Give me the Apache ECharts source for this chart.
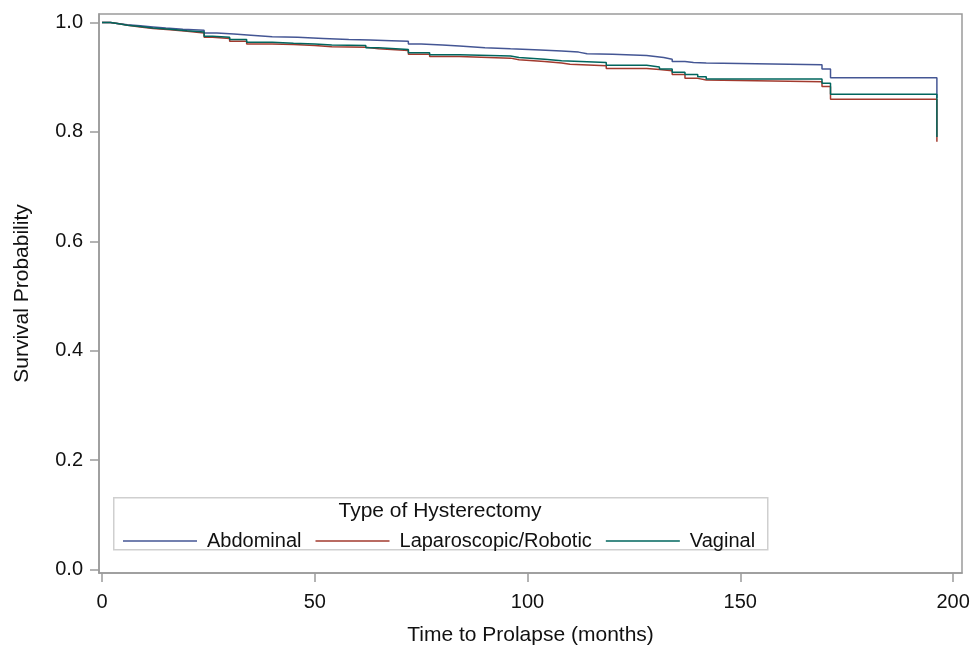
<!DOCTYPE html>
<html>
<head>
<meta charset="utf-8">
<script src="https://cdn.jsdelivr.net/npm/echarts@6/dist/echarts.min.js"></script>
<style>
html,body{margin:0;padding:0;background:#fff;}
#chart{width:972px;height:645px;}
</style>
</head>
<body>
<div id="chart"></div>
<script>
// ---- data ----
const groupNames = ['Abdominal', 'Laparoscopic/Robotic', 'Vaginal'];

const abdTime = [0, 2, 4, 6, 9, 12, 15, 19, 24, 27, 31, 35, 40, 46, 52, 58, 63, 68, 72, 75, 80, 84, 90, 96, 103, 108, 112, 114, 120, 128, 130, 132, 134, 137, 139, 142, 169.2, 171.2, 196.2];
const abdSurv = [1.0, 0.998, 0.996, 0.994, 0.992, 0.990, 0.988, 0.986, 0.981, 0.979, 0.977, 0.974, 0.973, 0.971, 0.969, 0.968, 0.967, 0.966, 0.961, 0.959, 0.957, 0.954, 0.952, 0.950, 0.948, 0.946, 0.943, 0.942, 0.940, 0.938, 0.936, 0.933, 0.929, 0.927, 0.926, 0.923, 0.915, 0.899, 0.862];

const lapTime = [0, 2, 4, 6, 9, 12, 16, 20, 24, 26, 30, 34, 40, 45, 50, 54, 62, 65, 72, 77, 84, 96, 98, 104, 108, 110, 118.5, 128, 131, 134, 137, 140, 142, 169.2, 171.2, 196.2];
const lapSurv = [1.0, 0.998, 0.995, 0.992, 0.989, 0.987, 0.984, 0.981, 0.973, 0.971, 0.966, 0.961, 0.960, 0.958, 0.956, 0.955, 0.952, 0.949, 0.942, 0.938, 0.935, 0.932, 0.929, 0.926, 0.924, 0.921, 0.916, 0.914, 0.912, 0.905, 0.898, 0.895, 0.892, 0.883, 0.860, 0.782];

const vagTime = [0, 2, 4, 6, 9, 12, 16, 20, 24, 26, 30, 34, 40, 45, 50, 54, 62, 65, 72, 77, 84, 96, 98, 104, 108, 118.5, 128, 131, 134, 137, 140, 142, 169.2, 171.2, 196.2];
const vagSurv = [1.0, 0.998, 0.995, 0.993, 0.990, 0.988, 0.985, 0.983, 0.975, 0.973, 0.969, 0.964, 0.962, 0.961, 0.959, 0.958, 0.954, 0.951, 0.945, 0.941, 0.939, 0.936, 0.933, 0.930, 0.927, 0.922, 0.919, 0.915, 0.909, 0.905, 0.901, 0.897, 0.889, 0.869, 0.791];

const xTicks = [0, 50, 100, 150, 200];
const yTicks = [0, 0.2, 0.4, 0.6, 0.8, 1.0];

const legendTitle = 'Type of Hysterectomy';
const xTitle = 'Time to Prolapse (months)';
const yTitle = 'Survival Probability';

// ---- build chart ----
function pairs(t, s) { return t.map((v, i) => [v, s[i]]); }

const colors = ['#445694', '#A23A2E', '#01665E'];
const FONT = 'Liberation Sans, Arial, sans-serif';
const frameColor = '#9a9a9a';
const textColor = '#111';

const chart = echarts.init(document.getElementById('chart'), null, { renderer: 'canvas' });

const option = {
  animation: false,
  backgroundColor: '#fff',
  color: colors,
  grid: {
    left: 99, right: 10, top: 14, bottom: 72,
    outerBoundsMode: 'none', containLabel: false,
    show: true, borderColor: frameColor, borderWidth: 1.5, backgroundColor: 'transparent'
  },
  xAxis: {
    type: 'value',
    min: -0.7, max: 202.1,
    name: xTitle, nameLocation: 'middle', nameGap: 52,
    nameTextStyle: { fontFamily: FONT, fontSize: 21, color: textColor },
    axisLine: { show: true, onZero: false, lineStyle: { color: frameColor, width: 1.5 } },
    axisTick: { show: true, length: 9, customValues: xTicks, lineStyle: { color: frameColor, width: 1.5 } },
    axisLabel: { customValues: xTicks, margin: 19, fontFamily: FONT, fontSize: 20, color: textColor },
    splitLine: { show: false }
  },
  yAxis: {
    type: 'value',
    min: -0.0064, max: 1.0157,
    name: yTitle, nameLocation: 'middle', nameGap: 66,
    nameTextStyle: { fontFamily: FONT, fontSize: 21, color: textColor },
    axisLine: { show: true, onZero: false, lineStyle: { color: frameColor, width: 1.5 } },
    axisTick: { show: true, length: 9, customValues: yTicks, lineStyle: { color: frameColor, width: 1.5 } },
    axisLabel: { customValues: yTicks, margin: 16, fontFamily: FONT, fontSize: 20, color: textColor,
      formatter: v => v.toFixed(1) },
    splitLine: { show: false }
  },
  legend: {
    data: groupNames,
    left: 118, top: 526,
    icon: 'rect',
    itemWidth: 74, itemHeight: 1.5, itemGap: 14,
    textStyle: { fontFamily: FONT, fontSize: 20, color: textColor, padding: [0, 0, 0, 5] }
  },
  graphic: [
    { type: 'rect', left: 113, top: 497, shape: { width: 654, height: 52 },
      style: { fill: 'transparent', stroke: '#cfcfcf', lineWidth: 1.5 }, silent: true },
    { type: 'text', x: 440, y: 501, silent: true,
      style: { text: legendTitle, font: '21px ' + FONT, fill: textColor, align: 'center', verticalAlign: 'top' } }
  ],
  series: [
    { name: groupNames[0], type: 'line', step: 'end', symbol: 'none', data: pairs(abdTime, abdSurv),
      lineStyle: { width: 1.5, color: colors[0] }, itemStyle: { color: colors[0] } },
    { name: groupNames[1], type: 'line', step: 'end', symbol: 'none', data: pairs(lapTime, lapSurv),
      lineStyle: { width: 1.5, color: colors[1] }, itemStyle: { color: colors[1] } },
    { name: groupNames[2], type: 'line', step: 'end', symbol: 'none', data: pairs(vagTime, vagSurv),
      lineStyle: { width: 1.5, color: colors[2] }, itemStyle: { color: colors[2] } }
  ]
};
chart.setOption(option);
</script>
</body>
</html>
